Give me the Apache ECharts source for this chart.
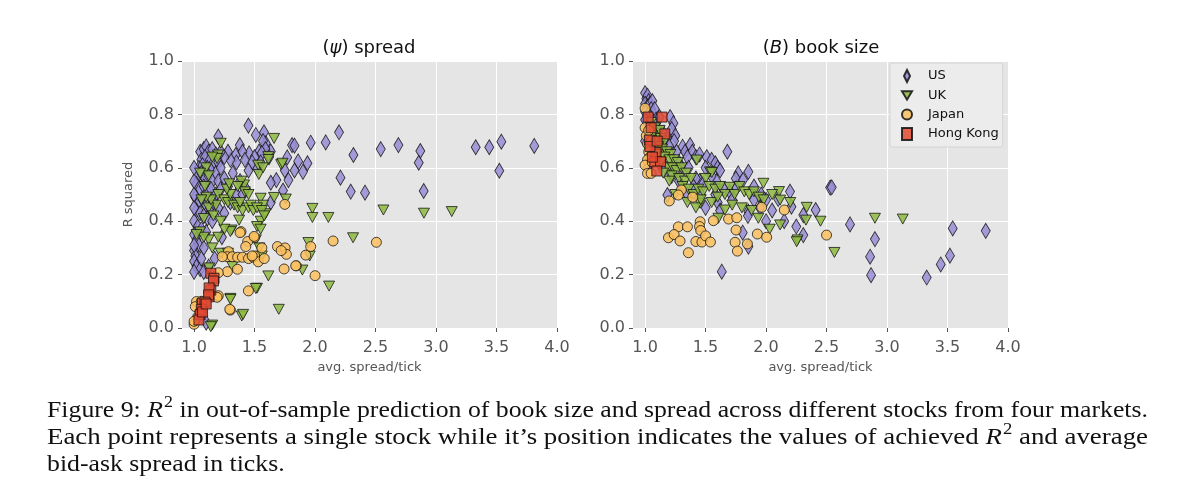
<!DOCTYPE html>
<html>
<head>
<meta charset="utf-8">
<script src="https://cdn.jsdelivr.net/npm/echarts@6/dist/echarts.min.js"></script>
<style>
html,body{margin:0;padding:0;background:#fff;}
#chart{width:1200px;height:484px;}
</style>
</head>
<body>
<div id="chart"></div>
<script>
// ---------- DATA ----------
const markets = ['US', 'UK', 'Japan', 'Hong Kong'];
const xTicks = [1.0, 1.5, 2.0, 2.5, 3.0, 3.5, 4.0];
const yTicks = [0.0, 0.2, 0.4, 0.6, 0.8, 1.0];
const panelTitles = ['ψ', 'B'];

// (psi) spread panel: [avg spread/tick, R squared]
const spreadUS = [
[1.449,0.758],[1.51,0.723],[1.578,0.733],[1.20,0.717],[2.198,0.733],[2.317,0.648],[2.088,0.695],[1.964,0.694],[1.81,0.685],[1.83,0.683],
[2.21,0.563],[2.295,0.511],[2.413,0.507],[1.634,0.661],[1.593,0.692],[1.537,0.661],[1.455,0.654],[1.378,0.685],[1.344,0.648],
[2.543,0.670],[2.689,0.685],[2.87,0.663],[2.857,0.619],[2.898,0.513],[3.328,0.677],[3.44,0.677],[3.54,0.698],[3.523,0.589],[3.812,0.682],
[1.77,0.639],[1.86,0.624],[1.937,0.617],[1.75,0.59],[1.83,0.59],[1.90,0.585],[1.78,0.554],[1.68,0.554],[1.634,0.544],[1.735,0.515],[1.634,0.47],
[1.57,0.70],[1.59,0.67],[1.56,0.655],[1.62,0.64],[1.55,0.62],[1.50,0.64],[1.52,0.60],[1.48,0.62],[1.40,0.66],[1.42,0.63],[1.35,0.62],[1.30,0.63],
[1.28,0.66],[1.25,0.64],[1.22,0.66],[1.32,0.58],[1.45,0.59],[1.38,0.55],[1.43,0.52],
[1.05,0.66],[1.08,0.67],[1.10,0.68],[1.12,0.66],[1.15,0.67],[1.18,0.65],[1.06,0.63],[1.09,0.64],[1.13,0.63],[1.16,0.62],[1.20,0.62],[1.04,0.60],
[1.07,0.61],[1.11,0.60],[1.14,0.59],[1.18,0.58],[1.22,0.60],[1.03,0.57],[1.06,0.58],[1.09,0.56],[1.12,0.57],[1.15,0.55],[1.20,0.55],[1.25,0.56],
[1.02,0.54],[1.05,0.52],[1.08,0.53],[1.11,0.51],[1.14,0.52],[1.18,0.50],[1.22,0.52],[1.28,0.53],[1.01,0.49],[1.04,0.47],[1.07,0.48],[1.10,0.46],
[1.13,0.45],[1.16,0.47],[1.02,0.44],[1.05,0.43],[1.08,0.42],[1.11,0.41],[1.00,0.40],[1.03,0.38],[1.06,0.37],[1.00,0.35],[1.02,0.33],[1.04,0.31],
[1.00,0.29],[1.01,0.27],[1.00,0.25],[1.02,0.23],[1.05,0.22],[1.08,0.21],[1.12,0.23],[1.00,0.21],[1.17,0.26],[1.23,0.34],[1.10,0.02],[1.00,0.45],
[1.00,0.50],[1.00,0.55],[1.00,0.60],[1.00,0.31],[1.30,0.47],[1.35,0.50],[1.40,0.50],[1.20,0.45],[1.25,0.43],[1.15,0.40],[1.10,0.36],[1.08,0.30],[1.06,0.26]
];
const spreadUK = [
[1.661,0.71],[1.22,0.692],[1.198,0.648],[1.19,0.635],[1.413,0.536],[1.39,0.55],[1.42,0.51],[1.53,0.61],[1.535,0.575],[1.614,0.642],[1.72,0.612],
[1.758,0.483],[1.978,0.448],[1.978,0.414],[2.11,0.414],[2.314,0.338],[2.565,0.442],[2.90,0.43],[3.13,0.436],[1.614,0.631],[1.73,0.617],[1.57,0.60],
[1.55,0.486],[1.661,0.489],[1.59,0.428],[1.57,0.46],[1.55,0.40],[1.945,0.32],[1.956,0.27],[1.895,0.217],[1.614,0.195],[2.116,0.157],[1.70,0.07],
[1.372,0.404],[1.31,0.367],[1.30,0.361],[1.25,0.37],[1.20,0.34],[1.12,0.33],[1.15,0.30],[1.22,0.28],[1.28,0.28],[1.51,0.33],[1.316,0.23],[1.52,0.149],
[1.30,0.111],[1.394,0.045],[1.15,0.011],[1.138,0.005],[1.124,0.225],[1.16,0.19],[1.405,0.051],[1.30,0.107],[1.51,0.148],
[1.18,0.46],[1.12,0.45],[1.14,0.48],[1.10,0.49],[1.20,0.50],[1.25,0.48],[1.28,0.47],[1.33,0.46],[1.36,0.45],[1.40,0.44],[1.45,0.45],[1.30,0.50],
[1.27,0.52],[1.36,0.53],[1.47,0.46],[1.49,0.44],[1.52,0.45],[1.56,0.44],[1.58,0.42],[1.52,0.38],[1.55,0.37],[1.54,0.30],[1.56,0.27],[1.10,0.60],
[1.12,0.57],[1.09,0.53],[1.06,0.48],[1.08,0.41],[1.05,0.36],[1.08,0.34],[1.16,0.42],[1.22,0.40],[1.05,0.58],[1.15,0.64],[1.29,0.54],[1.45,0.50],
[1.38,0.47],[1.02,0.35]
];
const spreadJP = [
[1.75,0.463],[2.507,0.321],[2.149,0.326],[1.388,0.361],[1.498,0.338],[1.443,0.324],[1.56,0.30],[1.689,0.305],[1.752,0.30],[1.763,0.276],[1.72,0.29],
[1.923,0.273],[1.964,0.305],[1.846,0.233],[2.0,0.196],[1.744,0.221],[1.449,0.139],[1.20,0.121],[1.30,0.067],[1.0,0.014],[1.38,0.357],[1.496,0.343],
[1.427,0.305],[1.284,0.286],[1.275,0.267],[1.233,0.267],[1.316,0.267],[1.36,0.265],[1.40,0.265],[1.45,0.26],[1.49,0.265],[1.50,0.27],[1.53,0.248],
[1.358,0.22],[1.275,0.211],[1.20,0.207],[1.19,0.115],[1.295,0.07],[1.02,0.099],[1.01,0.08],[1.03,0.042],[1.00,0.025],[1.06,0.10],[1.05,0.06],
[1.58,0.26],[1.84,0.233],[1.48,0.27]
];
const spreadHK = [
[1.138,0.205],[1.165,0.186],[1.16,0.176],[1.138,0.142],[1.124,0.15],[1.124,0.117],[1.12,0.124],[1.069,0.092],[1.09,0.097],[1.06,0.07],
[1.05,0.05],[1.04,0.03],[1.07,0.06],[1.10,0.09]
];

// (B) book size panel: [avg spread/tick, R squared]
const bookUS = [
[1.0,0.88],[1.01,0.86],[1.02,0.87],[1.03,0.85],[1.0,0.84],[1.02,0.83],[1.04,0.84],[1.06,0.85],[1.05,0.82],[1.0,0.81],[1.03,0.80],[1.07,0.80],
[1.08,0.82],[1.0,0.78],[1.04,0.77],[1.09,0.78],[1.12,0.79],[1.207,0.79],[1.234,0.767],[1.22,0.745],[1.25,0.72],[1.24,0.70],[1.31,0.679],
[1.372,0.685],[1.33,0.66],[1.39,0.66],[1.35,0.64],[1.42,0.64],[1.45,0.65],[1.68,0.66],[1.51,0.64],[1.55,0.63],[1.58,0.617],[1.60,0.60],[1.62,0.59],
[1.77,0.579],[1.854,0.585],[1.75,0.56],[1.81,0.555],[1.59,0.55],[1.752,0.523],[2.198,0.511],[2.10,0.483],[2.21,0.454],[2.308,0.423],[2.41,0.442],
[2.53,0.526],[1.854,0.436],[1.807,0.357],[1.854,0.305],[1.184,0.498],[1.634,0.211],[1.45,0.55],[1.42,0.56],[1.48,0.54],[1.40,0.53],[2.308,0.348],
[2.543,0.527],[2.694,0.388],[2.90,0.333],[2.86,0.267],[2.868,0.198],[3.328,0.189],[3.444,0.238],[3.52,0.271],[3.543,0.373],[3.816,0.364],
[1.10,0.75],[1.15,0.73],[1.18,0.71],[1.20,0.68],[1.14,0.69],[1.26,0.66],[1.28,0.62],[1.30,0.60],[1.36,0.60],[1.50,0.60],[1.55,0.57],[1.65,0.52],
[1.70,0.51],[1.72,0.48],[1.95,0.45],[2.00,0.48],[2.05,0.44],[1.90,0.48],[1.60,0.47],[1.50,0.45],[1.35,0.50],[1.02,0.60],[1.05,0.67],[1.0,0.70],
[1.02,0.74],[1.12,0.62],[1.17,0.60],[1.22,0.57],[1.28,0.55],[1.46,0.50],[1.58,0.50],[1.62,0.44],[1.85,0.42],[2.0,0.40],[2.15,0.40],[2.25,0.38],
[1.9,0.53],[1.96,0.50]
];
const bookUK = [
[1.05,0.77],[1.08,0.75],[1.10,0.73],[1.12,0.74],[1.06,0.72],[1.09,0.70],[1.13,0.71],[1.16,0.70],[1.11,0.68],[1.14,0.67],[1.18,0.66],[1.21,0.65],
[1.10,0.65],[1.16,0.64],[1.20,0.63],[1.24,0.63],[1.27,0.62],[1.13,0.62],[1.19,0.60],[1.23,0.60],[1.26,0.59],[1.30,0.60],[1.34,0.58],[1.427,0.629],
[1.22,0.57],[1.28,0.56],[1.33,0.55],[1.38,0.56],[1.31,0.53],[1.36,0.52],[1.40,0.50],[1.44,0.52],[1.48,0.51],[1.537,0.585],[1.551,0.582],[1.50,0.56],
[1.53,0.53],[1.58,0.52],[1.62,0.53],[1.70,0.527],[1.66,0.50],[1.74,0.50],[1.78,0.53],[1.82,0.51],[1.86,0.50],[1.90,0.51],[1.978,0.542],[1.94,0.49],
[1.98,0.48],[2.107,0.511],[2.116,0.479],[2.336,0.452],[2.33,0.404],[2.116,0.386],[2.03,0.37],[2.26,0.33],[2.253,0.323],[1.936,0.411],[1.66,0.442],
[1.606,0.411],[1.455,0.467],[1.35,0.47],[1.42,0.45],[1.55,0.47],[1.72,0.46],[1.80,0.45],[1.88,0.44],[2.90,0.411],[3.13,0.408],[2.565,0.283],
[1.25,0.50],[1.20,0.55],[1.15,0.58],[1.46,0.48],[1.60,0.49],[2.05,0.50],[2.20,0.47],[2.45,0.40]
];
const bookJP = [
[1.0,0.823],[1.0,0.75],[1.01,0.72],[1.02,0.69],[1.03,0.66],[1.04,0.64],[1.02,0.63],[1.0,0.61],[1.02,0.579],[1.05,0.579],[1.30,0.517],[1.275,0.498],
[1.20,0.476],[1.394,0.49],[1.455,0.398],[1.565,0.402],[1.69,0.408],[1.758,0.413],[1.275,0.379],[1.35,0.379],[1.45,0.38],[1.46,0.365],[1.193,0.338],
[1.24,0.35],[1.289,0.326],[1.42,0.324],[1.47,0.322],[1.50,0.345],[1.54,0.322],[1.358,0.282],[1.752,0.367],[1.744,0.321],[1.763,0.288],[1.846,0.315],
[1.928,0.352],[2.005,0.34],[1.964,0.452],[2.151,0.442],[2.50,0.348],[1.05,0.70],[1.03,0.74],[1.06,0.62]
];
const bookHK = [
[1.025,0.79],[1.14,0.79],[1.163,0.727],[1.036,0.704],[1.09,0.657],[1.08,0.623],[1.127,0.623],[1.097,0.588],[1.05,0.75],[1.04,0.68],[1.10,0.70],[1.06,0.64]
];

const captionLines = [
  [['Figure 9: ', 'n'], ['R', 'i'], ['2', 's'], [' in out-of-sample prediction of book size and spread across different stocks from four markets.', 'n']],
  [['Each point represents a single stock while it\u2019s position indicates the values of achieved ', 'n'], ['R', 'i'], ['2', 's'], [' and average', 'n']],
  [['bid-ask spread in ticks.', 'n']]
];

// ---------- STYLE ----------
const colors = {US: '#988ED5', UK: '#8EBA42', Japan: '#FBC15E', 'Hong Kong': '#E24A33'};
const symbols = {
  US: {symbol: 'diamond', symbolSize: [9, 15], symbolRotate: 0},
  UK: {symbol: 'triangle', symbolSize: [11, 10], symbolRotate: 180},
  Japan: {symbol: 'circle', symbolSize: 10, symbolRotate: 0},
  'Hong Kong': {symbol: 'rect', symbolSize: 10, symbolRotate: 0}
};
const legendIcons = {
  US: 'path://M5,0 L8.5,7 L5,14 L1.5,7 Z',
  UK: 'path://M0,0 L12,0 L6,10 Z',
  Japan: 'circle',
  'Hong Kong': 'rect'
};

const chart = echarts.init(document.getElementById('chart'), null, {renderer: 'canvas'});

const gridLefts = [182, 633];
const gridW = 375, gridTop = 61, gridH = 267;
const tickColor = '#555555';

function xAxisDef(i) {
  return {
    gridIndex: i, type: 'value', min: 0.9, max: 4.0,
    name: 'avg. spread/tick', nameLocation: 'middle', nameGap: 31,
    nameTextStyle: {color: '#555555', fontSize: 13, fontFamily: 'DejaVu Sans'},
    axisLine: {show: false},
    axisTick: {show: true, length: 4, customValues: xTicks, lineStyle: {color: tickColor, width: 1}},
    axisLabel: {customValues: xTicks, formatter: v => v.toFixed(1), color: '#555555', fontSize: 16, fontFamily: 'DejaVu Sans', margin: 12},
    splitLine: {show: true, lineStyle: {color: '#ffffff', width: 1}}
  };
}
function yAxisDef(i) {
  return {
    gridIndex: i, type: 'value', min: 0, max: 1, interval: 0.2,
    name: i === 0 ? 'R squared' : '', nameLocation: 'middle', nameGap: 47,
    nameTextStyle: {color: '#555555', fontSize: 13, fontFamily: 'DejaVu Sans'},
    axisLine: {show: false},
    axisTick: {show: true, length: 4, lineStyle: {color: tickColor, width: 1}},
    axisLabel: {formatter: v => v.toFixed(1), color: '#555555', fontSize: 16, fontFamily: 'DejaVu Sans', margin: 8},
    splitLine: {show: true, lineStyle: {color: '#ffffff', width: 1}}
  };
}

const panelData = [
  {US: spreadUS, UK: spreadUK, Japan: spreadJP, 'Hong Kong': spreadHK},
  {US: bookUS, UK: bookUK, Japan: bookJP, 'Hong Kong': bookHK}
];
const series = [];
panelData.forEach((pd, i) => {
  markets.forEach(m => {
    series.push({
      type: 'scatter', name: m, xAxisIndex: i, yAxisIndex: i,
      data: pd[m],
      symbol: symbols[m].symbol, symbolSize: symbols[m].symbolSize, symbolRotate: symbols[m].symbolRotate,
      itemStyle: {color: colors[m], borderColor: '#111111', borderWidth: 0.9, opacity: 0.85},
      emphasis: {disabled: true},
      silent: true
    });
  });
});

// caption graphics
const meas = document.createElement('canvas').getContext('2d');
const capFamily = '"Liberation Serif", "DejaVu Serif", serif';
const capSize = 23;
function fontFor(kind) {
  if (kind === 'i') return 'italic ' + capSize + 'px ' + capFamily;
  if (kind === 's') return 'normal ' + Math.round(capSize * 0.7) + 'px ' + capFamily;
  return 'normal ' + capSize + 'px ' + capFamily;
}
function buildLine(pieces, x, y, targetW, fixedScale) {
  let cx = 0;
  const children = [];
  pieces.forEach(([t, k]) => {
    meas.font = fontFor(k);
    const w = meas.measureText(t).width;
    children.push({
      type: 'text', x: cx, y: k === 's' ? -8 : 0,
      style: {
        text: t, fill: '#111111',
        fontSize: k === 's' ? Math.round(capSize * 0.7) : capSize,
        fontFamily: capFamily,
        fontStyle: k === 'i' ? 'italic' : 'normal',
        verticalAlign: 'middle', align: 'left'
      }
    });
    cx += w + (k === 'i' ? 1 : 0);
  });
  const sc = fixedScale || (targetW / cx);
  return {g: {type: 'group', x: x, y: y, scaleX: sc, children: children}, scale: sc};
}
const l1 = buildLine(captionLines[0], 47, 411, 1101);
const l2 = buildLine(captionLines[1], 47, 438, 1101);
const l3 = buildLine(captionLines[2], 47, 465, null, l1.scale);

const option = {
  animation: false,
  backgroundColor: '#ffffff',
  title: [
    {text: '({i|' + panelTitles[0] + '}) spread', left: 364, top: 34, textAlign: 'center',
     textStyle: {color: '#111', fontSize: 18, fontWeight: 'normal', fontFamily: 'DejaVu Sans',
       rich: {i: {fontStyle: 'italic', fontSize: 18, fontFamily: 'DejaVu Sans', color: '#111'}}}},
    {text: '({i|' + panelTitles[1] + '}) book size', left: 816, top: 34, textAlign: 'center',
     textStyle: {color: '#111', fontSize: 18, fontWeight: 'normal', fontFamily: 'DejaVu Sans',
       rich: {i: {fontStyle: 'italic', fontSize: 18, fontFamily: 'DejaVu Sans', color: '#111'}}}}
  ],
  grid: gridLefts.map(l => ({left: l, top: gridTop, width: gridW, height: gridH, show: true,
    backgroundColor: '#E5E5E5', borderWidth: 0, containLabel: false})),
  xAxis: [xAxisDef(0), xAxisDef(1)],
  yAxis: [yAxisDef(0), yAxisDef(1)],
  legend: {
    show: true, orient: 'vertical', left: 890, top: 63,
    data: markets.map(m => ({name: m, icon: legendIcons[m]})),
    itemWidth: 10, itemHeight: 12, itemGap: 6,
    padding: [6, 4, 6, 11],
    backgroundColor: 'rgba(236,236,236,0.9)', borderColor: '#d4d4d4', borderWidth: 1, borderRadius: 2,
    textStyle: {color: '#111', fontSize: 13, fontFamily: 'DejaVu Sans', padding: [0, 0, 0, 11]},
    selectedMode: false
  },
  graphic: [l1.g, l2.g, l3.g],
  series: series
};
chart.setOption(option);
</script>
</body>
</html>
